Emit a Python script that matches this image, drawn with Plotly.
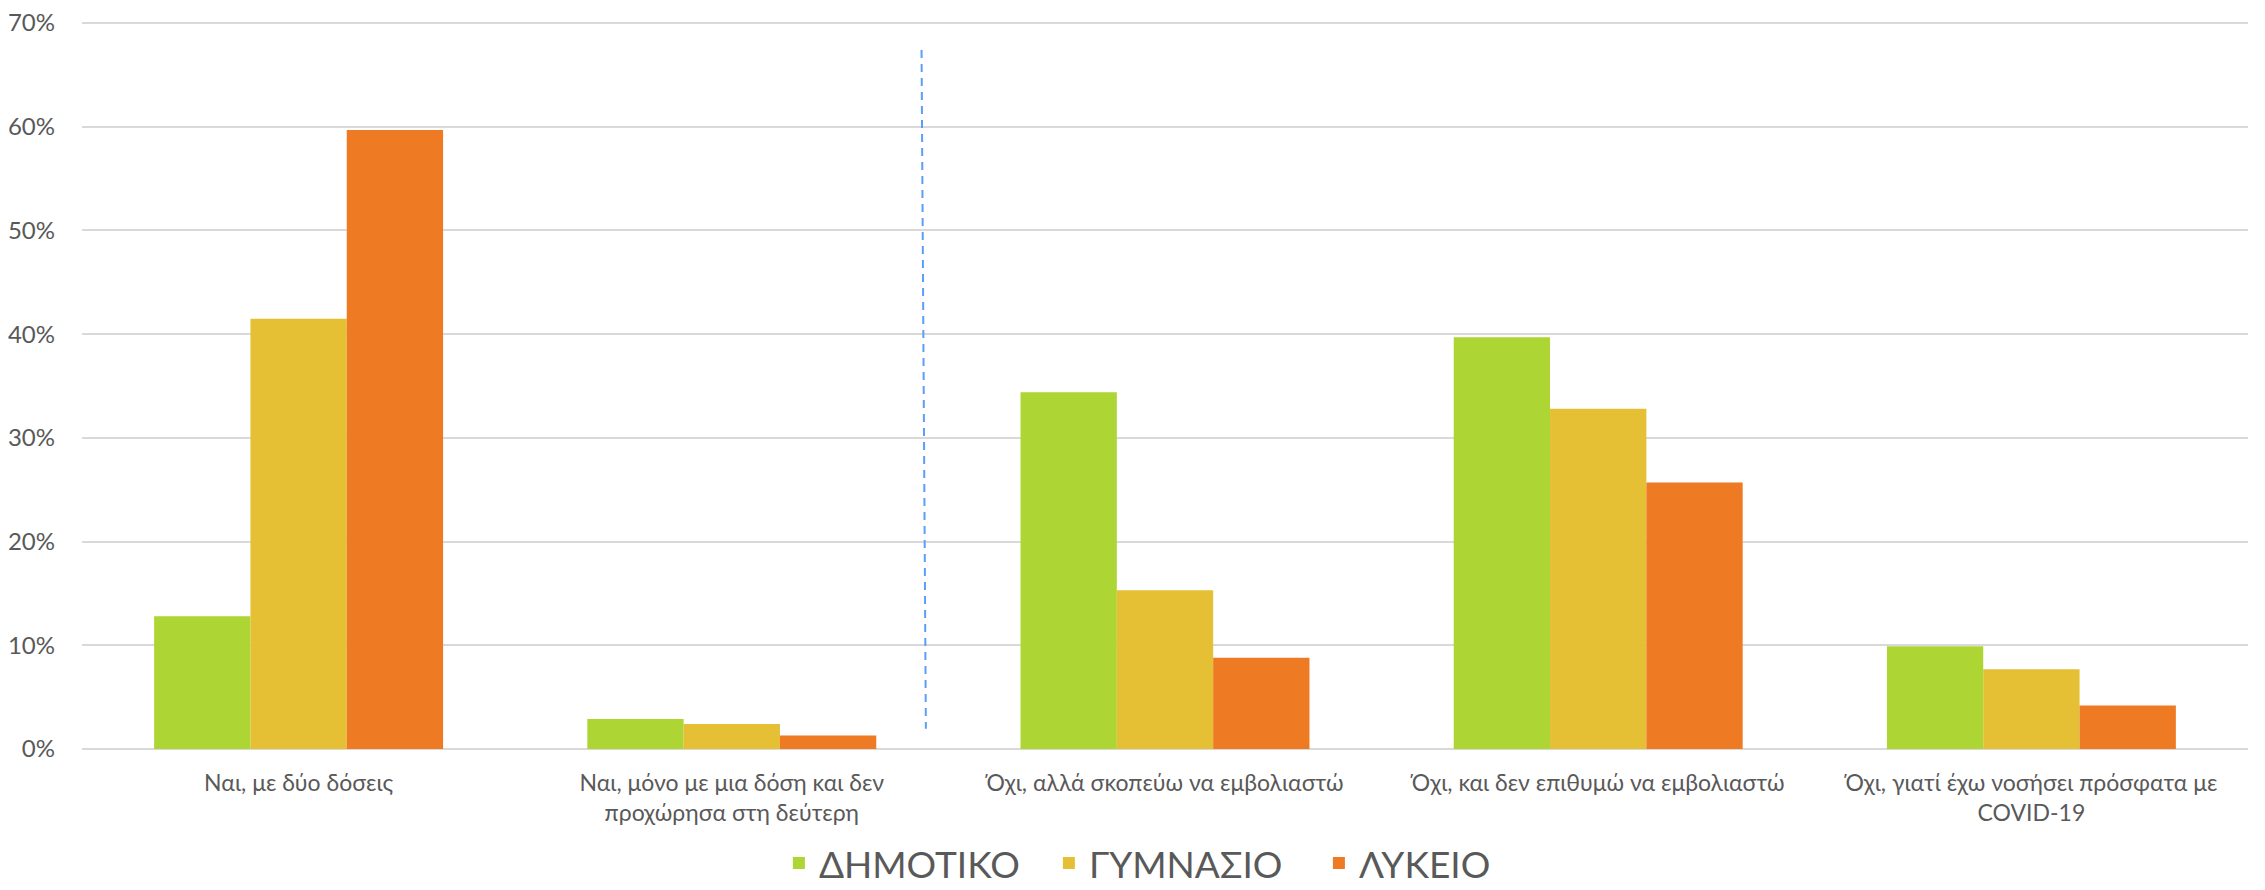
import plotly.graph_objects as go

categories = [
    "Ναι, με δύο δόσεις",
    "Ναι, μόνο με μια δόση και δεν<br>προχώρησα στη δεύτερη",
    "Όχι, αλλά σκοπεύω να εμβολιαστώ",
    "Όχι, και δεν επιθυμώ να εμβολιαστώ",
    "Όχι, γιατί έχω νοσήσει πρόσφατα με<br>COVID-19",
]
series_names = ["ΔΗΜΟΤΙΚΟ", "ΓΥΜΝΑΣΙΟ", "ΛΥΚΕΙΟ"]
dimotiko = [12.8, 2.9, 34.4, 39.7, 9.9]
gymnasio = [41.5, 2.4, 15.3, 32.8, 7.7]
lykeio = [59.7, 1.3, 8.8, 25.7, 4.2]
colors = ["#ADD533", "#E5C034", "#EE7A23"]
y_ticks = [0, 10, 20, 30, 40, 50, 60, 70]
y_tick_labels = ["0%", "10%", "20%", "30%", "40%", "50%", "60%", "70%"]

FONT = "Lato, 'Noto Sans', sans-serif"

fig = go.Figure()
for name, vals, col in zip(series_names, [dimotiko, gymnasio, lykeio], colors):
    fig.add_trace(go.Bar(x=list(range(len(categories))), y=vals, name=name,
                         marker=dict(color=col, line=dict(width=0))))

# dashed separator line
fig.add_shape(type="line", xref="x", yref="y", x0=1.438, x1=1.448, y0=67.4, y1=1.95,
              line=dict(color="#5A9EF5", width=2, dash="8px,6px"))

# page body has an 8px default margin, so the figure is sized to fit the window
fig.update_layout(
    width=2257, height=882,
    margin=dict(l=74, r=17, t=13, b=141, autoexpand=False),
    paper_bgcolor="white", plot_bgcolor="white",
    barmode="group", bargap=0.333, bargroupgap=0,
    font=dict(family=FONT, color="#595959", size=23),
    showlegend=True,
    legend=dict(orientation="h", x=0.521, xanchor="center", xref="container",
                y=0.03, yanchor="middle", yref="container",
                font=dict(size=37, color="#595959"), itemwidth=30,
                entrywidth=225, entrywidthmode="pixels",
                traceorder="normal"),
    xaxis=dict(tickmode="array", tickvals=list(range(len(categories))), ticktext=categories,
               range=[-0.5, 4.5], showgrid=False, showline=False, zeroline=False,
               automargin=False,
               ticks="", tickfont=dict(size=23, color="#595959"), ticklabelstandoff=18),
    yaxis=dict(range=[0, 70.2], tickmode="array", tickvals=y_ticks, ticktext=y_tick_labels,
               showgrid=True, automargin=False, ticklabeloverflow="allow",
               gridcolor="#D9D9D9", gridwidth=2, zeroline=True, zerolinecolor="#D9D9D9",
               zerolinewidth=2, showline=False, ticks="",
               tickfont=dict(size=24, color="#595959"), ticklabelstandoff=26),
)

fig.write_html("out.html")
